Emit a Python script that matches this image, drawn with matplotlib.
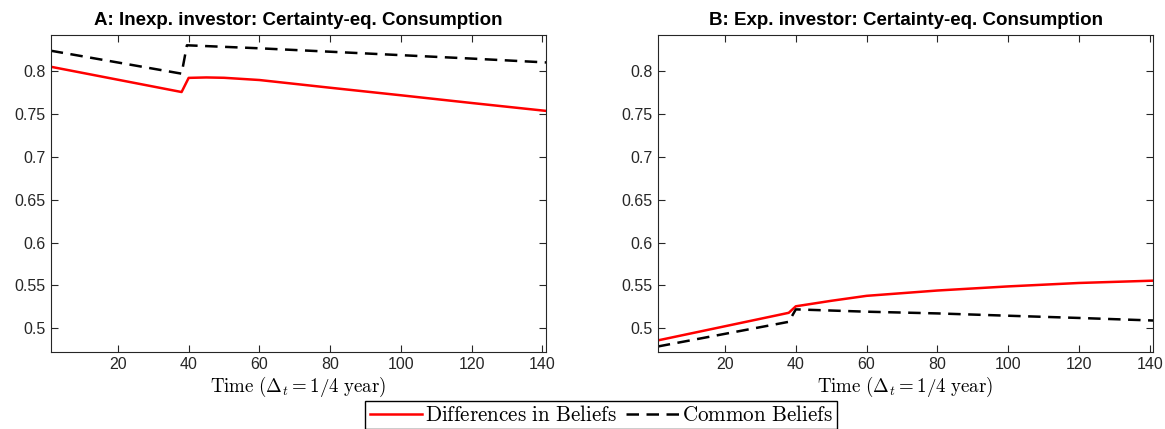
import matplotlib
matplotlib.use('Agg')
import matplotlib.pyplot as plt

plt.rcParams['font.family'] = ['Liberation Sans', 'DejaVu Sans']
plt.rcParams['mathtext.fontset'] = 'cm'

t_a = [1, 38, 40, 45, 50, 60, 80, 100, 120, 141]
diff_a = [0.805, 0.7755, 0.792, 0.7925, 0.7921, 0.7895, 0.7805, 0.7717, 0.7627, 0.7535]
t_a_common = [1, 38, 39.5, 60, 80, 100, 120, 141]
common_a = [0.8237, 0.7969, 0.830, 0.8265, 0.8225, 0.8185, 0.8145, 0.810]

t_b = [1, 38, 40, 50, 60, 80, 100, 120, 141]
diff_b = [0.4858, 0.518, 0.5256, 0.532, 0.5378, 0.544, 0.5488, 0.5528, 0.5555]
t_b_common = [1, 38, 40, 60, 80, 100, 120, 141]
common_b = [0.4787, 0.5075, 0.522, 0.5193, 0.5173, 0.5146, 0.512, 0.509]

titles = ['A: Inexp. investor: Certainty-eq. Consumption',
          'B: Exp. investor: Certainty-eq. Consumption']
xlabel = r'$\mathrm{Time}\ (\Delta_t = 1/4\ \mathrm{year})$'
labels = [r'$\mathrm{Differences\ in\ Beliefs}$', r'$\mathrm{Common\ Beliefs}$']

fig = plt.figure(figsize=(11.65, 4.29), dpi=100)
ax1 = fig.add_axes([0.0435, 0.1803, 0.4252, 0.7381])
ax2 = fig.add_axes([0.5646, 0.1803, 0.4254, 0.7381])

panels = [(ax1, t_a, diff_a, t_a_common, common_a),
          (ax2, t_b, diff_b, t_b_common, common_b)]

for i, (ax, t1, y1, t2, y2) in enumerate(panels):
    l1, = ax.plot(t1, y1, color='#ff0000', lw=1.8, label=labels[0])
    l2, = ax.plot(t2, y2, color='black', lw=1.8, linestyle=(0, (5, 3)), label=labels[1])
    ax.set_xlim(1, 141)
    ax.set_ylim(0.4727, 0.842)
    ax.set_xticks([20, 40, 60, 80, 100, 120, 140])
    ax.set_yticks([0.5, 0.55, 0.6, 0.65, 0.7, 0.75, 0.8])
    ax.set_yticklabels(['0.5', '0.55', '0.6', '0.65', '0.7', '0.75', '0.8'])
    ax.tick_params(direction='in', top=True, right=True, length=5, width=0.8,
                   labelsize=11.5, colors='#262626')
    for s in ax.spines.values():
        s.set_color('#262626')
        s.set_linewidth(0.8)
    ax.set_title(titles[i], fontsize=13.5, fontweight='bold', pad=7)
    ax.set_xlabel(xlabel, fontsize=13.6, labelpad=2)

fig.legend([l1, l2], labels, ncol=2, loc='upper center',
           bbox_to_anchor=(601 / 1165, 1 - 401 / 429), fontsize=15.2,
           frameon=True, fancybox=False, edgecolor='black', framealpha=1,
           handlelength=2.5, handletextpad=0.15, columnspacing=0.4,
           borderpad=0.2, borderaxespad=0)

fig.savefig('out.png', dpi=100)
